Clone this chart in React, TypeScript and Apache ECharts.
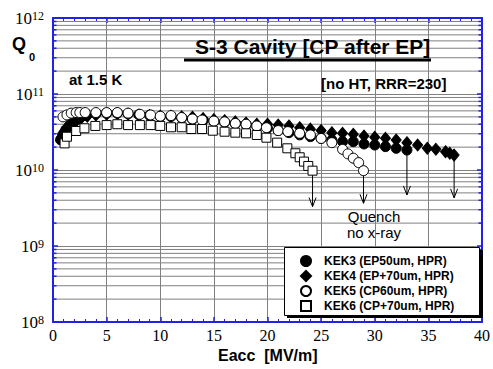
import React, { useEffect, useRef } from "react";
import * as echarts from "echarts";

// ---- data ----
const kek3E = [0.7, 0.9, 1.2, 1.5, 2.0, 2.5, 3.0, 4.0, 5.0, 6.0, 7.0, 8.0, 9.0, 10.0, 11.0, 12.0, 13.0, 14.0, 15.0, 16.0, 17.0, 18.0, 19.0, 20.0, 21.0, 22.0, 23.0, 24.0, 25.0, 26.0, 27.0, 28.0, 29.0, 30.0, 31.0, 32.0, 33.0];
const kek3Q = [2.5e10, 2.9e10, 3.4e10, 3.8e10, 4.3e10, 4.8e10, 5.2e10, 5.5e10, 5.6e10, 5.6e10, 5.5e10, 5.35e10, 5.25e10, 5.05e10, 5.05e10, 4.85e10, 4.65e10, 4.5e10, 4.35e10, 4.25e10, 4.05e10, 3.95e10, 3.75e10, 3.55e10, 3.3e10, 3.1e10, 2.9e10, 2.75e10, 2.6e10, 2.48e10, 2.36e10, 2.36e10, 2.2e10, 2.13e10, 2.03e10, 1.93e10, 1.83e10];

const kek4E = [0.8, 1.1, 1.5, 2.0, 2.6, 3.2, 4.0, 5.0, 6.0, 7.0, 8.0, 9.0, 10.0, 11.0, 12.0, 13.0, 14.0, 15.0, 16.0, 17.0, 18.0, 19.0, 20.0, 21.0, 22.0, 23.0, 24.0, 25.0, 26.0, 27.0, 28.0, 29.0, 30.0, 31.0, 32.0, 33.0, 34.0, 34.9, 35.7, 36.6, 37.0, 37.4];
const kek4Q = [2.7e10, 3.3e10, 3.9e10, 4.4e10, 4.8e10, 5.1e10, 5.3e10, 5.4e10, 5.5e10, 5.4e10, 5.3e10, 5.2e10, 5.1e10, 5.1e10, 5.0e10, 4.95e10, 4.75e10, 4.6e10, 4.45e10, 4.3e10, 4.15e10, 4.0e10, 4.0e10, 3.9e10, 3.8e10, 3.6e10, 3.45e10, 3.3e10, 3.1e10, 3.04e10, 2.95e10, 2.8e10, 2.69e10, 2.61e10, 2.48e10, 2.29e10, 2.13e10, 1.93e10, 1.87e10, 1.74e10, 1.66e10, 1.57e10];

const kek5E = [0.93, 1.3, 1.7, 2.16, 2.5, 3.0, 4.0, 5.0, 6.0, 7.0, 8.1, 9.1, 10.0, 11.0, 12.0, 13.0, 13.9, 15.0, 16.0, 17.0, 18.0, 19.0, 19.9, 21.0, 21.9, 23.0, 24.0, 25.0, 26.0, 27.0, 27.5, 28.0, 28.5, 28.95];
const kek5Q = [5.0e10, 5.3e10, 5.6e10, 5.7e10, 5.7e10, 5.7e10, 5.7e10, 5.7e10, 5.7e10, 5.6e10, 5.4e10, 5.3e10, 5.1e10, 5.2e10, 4.9e10, 4.7e10, 4.55e10, 4.4e10, 4.3e10, 4.1e10, 4.0e10, 3.8e10, 3.6e10, 3.3e10, 3.2e10, 3.04e10, 2.89e10, 2.6e10, 2.29e10, 1.87e10, 1.63e10, 1.43e10, 1.25e10, 0.98e10];

const kek6E = [1.08, 1.3, 2.16, 2.93, 3.95, 5.0, 6.0, 7.0, 8.1, 9.1, 10.0, 11.0, 12.0, 12.9, 13.9, 14.9, 16.0, 17.0, 18.0, 19.0, 19.9, 20.9, 21.85, 22.6, 23.0, 23.4, 23.8, 24.2];
const kek6Q = [2.24e10, 2.74e10, 3.26e10, 3.54e10, 3.8e10, 3.9e10, 4.0e10, 3.9e10, 3.9e10, 3.9e10, 3.8e10, 3.65e10, 3.65e10, 3.46e10, 3.46e10, 3.29e10, 3.19e10, 3.1e10, 3.04e10, 2.89e10, 2.66e10, 2.29e10, 1.93e10, 1.66e10, 1.47e10, 1.29e10, 1.13e10, 0.98e10];

const seriesNames = ["KEK3 (EP50um, HPR)", "KEK4 (EP+70um, HPR)", "KEK5 (CP60um, HPR)", "KEK6 (CP+70um, HPR)"];

// quench arrows: Eacc, start Q, arrow-tip Q
const arrowE = [24.2, 28.95, 33.0, 37.4];
const arrowFromQ = [0.98e10, 0.98e10, 1.83e10, 1.57e10];
const arrowToQ = [3.3e9, 3.65e9, 4.7e9, 4.3e9];

// axes
const xMin = 0, xMax = 40, xStep = 5;
const yMin = 1e8, yMax = 1e12;
const yDecades = [1e8, 1e9, 1e10, 1e11];
const yMinorFactors = [2, 3, 4, 5, 6, 7, 8, 9];

const BLUE = "#2222e6";
const GRID = "#808080";
const SANS = "'Liberation Sans', Arial, sans-serif";
const SERIF = "'Liberation Serif', 'Times New Roman', serif";

export default function App() {
  const ref = useRef<HTMLDivElement>(null);

  useEffect(() => {
    if (!ref.current) return;
    const chart = echarts.init(ref.current, undefined, { renderer: "svg" });

    const pairs = (e: number[], q: number[]) => e.map((v, i) => [v, q[i]]);
    const minorVals: number[][] = [];
    yDecades.forEach((d) => yMinorFactors.forEach((f) => minorVals.push([0, d * f])));

    const axisLineCfg = { show: true, onZero: false, lineStyle: { color: BLUE, width: 2 } };
    const tickCfg = { show: true, inside: true, length: 5, lineStyle: { color: BLUE, width: 1.5 } };

    const option: any = {
      animation: false,
      backgroundColor: "#fff",
      grid: { left: 53, top: 18, width: 432, height: 304, containLabel: false },
      xAxis: [
        {
          type: "value", min: xMin, max: xMax, interval: xStep, position: "bottom",
          axisLine: axisLineCfg, axisTick: tickCfg,
          minorTick: { show: true, splitNumber: 5, length: 3, lineStyle: { color: BLUE, width: 1 } },
          splitLine: { show: true, lineStyle: { color: GRID, width: 1 } },
          axisLabel: { fontFamily: SERIF, fontSize: 16, color: "#000", margin: 5 },
        },
        {
          type: "value", min: xMin, max: xMax, interval: xStep, position: "top",
          axisLine: axisLineCfg, axisTick: tickCfg,
          minorTick: { show: true, splitNumber: 5, length: 3, lineStyle: { color: BLUE, width: 1 } },
          splitLine: { show: false }, axisLabel: { show: false },
        },
      ],
      yAxis: [
        {
          type: "log", logBase: 10, min: yMin, max: yMax, splitNumber: 4, position: "left",
          axisLine: axisLineCfg, axisTick: tickCfg,
          splitLine: { show: true, lineStyle: { color: GRID, width: 1 } },
          axisLabel: {
            margin: 9,
            formatter: (v: number) => `{b|10}{s|${Math.round(Math.log10(v))}}`,
            rich: {
              b: { fontFamily: SERIF, fontSize: 17, lineHeight: 17, color: "#000", verticalAlign: "bottom" },
              s: { fontFamily: SERIF, fontSize: 12, lineHeight: 12, color: "#000", verticalAlign: "top" },
            },
          },
        },
        {
          type: "log", logBase: 10, min: yMin, max: yMax, splitNumber: 4, position: "right",
          axisLine: axisLineCfg, axisTick: tickCfg,
          splitLine: { show: false }, axisLabel: { show: false },
        },
      ],
      legend: {
        data: seriesNames, orient: "vertical", left: 300, top: 255,
        itemWidth: 10, itemHeight: 10, itemGap: 3, padding: 0, selectedMode: false, z: 10,
        textStyle: { fontFamily: SANS, fontWeight: "bold", fontSize: 12, color: "#000", lineHeight: 12, padding: [0, 0, 0, 8] },
      },
      graphic: [
        // Q0 label
        { type: "text", left: 12, top: 35, style: { text: "Q", font: `bold 18px ${SANS}`, fill: "#000" } },
        { type: "text", left: 29, top: 51, style: { text: "0", font: `bold 11px ${SANS}`, fill: "#000" } },
        // title
        { type: "text", x: 195, y: 57, style: { text: "S-3 Cavity [CP after EP]", font: `bold 21px ${SANS}`, fill: "#000", textVerticalAlign: "bottom" } as any, z: 5 },
        { type: "rect", shape: { x: 184, y: 58.5, width: 247, height: 3 }, style: { fill: "#000" }, z: 5 },
        { type: "text", x: 69, y: 87, style: { text: "at 1.5 K", font: `bold 15px ${SANS}`, fill: "#000", textVerticalAlign: "bottom" } as any, z: 5 },
        { type: "text", x: 321, y: 91, style: { text: "[no HT, RRR=230]", font: `bold 15px ${SANS}`, fill: "#000", textVerticalAlign: "bottom" } as any, z: 5 },
        // quench note
        { type: "text", x: 374, y: 216, style: { text: "Quench", font: `15px ${SANS}`, fill: "#000", textAlign: "center", textVerticalAlign: "middle" } as any, z: 5 },
        { type: "text", x: 374, y: 232, style: { text: "no x-ray", font: `15px ${SANS}`, fill: "#000", textAlign: "center", textVerticalAlign: "middle" } as any, z: 5 },
        // x axis name
        { type: "text", x: 218, y: 363, style: { text: "Eacc \u00a0[MV/m]", font: `bold 16px ${SANS}`, fill: "#000", textVerticalAlign: "bottom" } as any, z: 5 },
        // legend box with shadow
        { type: "rect", shape: { x: 287, y: 250, width: 196, height: 68 }, style: { fill: "#000" }, z: 8 },
        { type: "rect", shape: { x: 284.5, y: 247.5, width: 195, height: 68 }, style: { fill: "#fff", stroke: "#000", lineWidth: 1 }, z: 9 },
      ],
      series: [
        {
          type: "custom", name: "minorgrid", silent: true, z: 1,
          xAxisIndex: 0, yAxisIndex: 0, data: minorVals, encode: { x: 0, y: 1 },
          renderItem: (params: any, api: any) => {
            const v = api.value(1);
            const p0 = api.coord([xMin, v]);
            const p1 = api.coord([xMax, v]);
            return {
              type: "group",
              children: [
                { type: "line", shape: { x1: p0[0] + 1, y1: p0[1], x2: p1[0] - 1, y2: p1[1] }, style: { stroke: GRID, lineWidth: 1 } },
                { type: "line", shape: { x1: p0[0], y1: p0[1], x2: p0[0] + 3.5, y2: p0[1] }, style: { stroke: BLUE, lineWidth: 1.5 } },
                { type: "line", shape: { x1: p1[0] - 3.5, y1: p1[1], x2: p1[0], y2: p1[1] }, style: { stroke: BLUE, lineWidth: 1.5 } },
              ],
            };
          },
        },
        {
          type: "scatter", name: seriesNames[0], data: pairs(kek3E, kek3Q), symbol: "circle", symbolSize: 10, z: 3,
          itemStyle: { color: "#000", borderColor: "#000", borderWidth: 1, opacity: 1 },
        },
        {
          type: "scatter", name: seriesNames[1], data: pairs(kek4E, kek4Q), symbol: "diamond", symbolSize: [10, 12], z: 3,
          itemStyle: { color: "#000", borderColor: "#000", borderWidth: 1, opacity: 1 },
        },
        {
          type: "scatter", name: seriesNames[2], data: pairs(kek5E, kek5Q), symbol: "circle", symbolSize: 10, z: 3,
          itemStyle: { color: "#fff", borderColor: "#000", borderWidth: 1, opacity: 1 },
        },
        {
          type: "scatter", name: seriesNames[3], data: pairs(kek6E, kek6Q), symbol: "rect", symbolSize: 9, z: 3,
          itemStyle: { color: "#fff", borderColor: "#000", borderWidth: 1, opacity: 1 },
        },
        {
          type: "custom", name: "arrows", silent: true, z: 2,
          data: arrowE.map((e, i) => [e, arrowFromQ[i], arrowToQ[i]]),
          encode: { x: 0, y: [1, 2] },
          renderItem: (params: any, api: any) => {
            const e = api.value(0);
            const a = api.coord([e, api.value(1)]);
            const b = api.coord([e, api.value(2)]);
            return {
              type: "group",
              children: [
                { type: "line", shape: { x1: a[0], y1: a[1] + 4, x2: b[0], y2: b[1] }, style: { stroke: "#000", lineWidth: 1 } },
                { type: "polyline", shape: { points: [[b[0] - 3.5, b[1] - 9], [b[0], b[1]], [b[0] + 3.5, b[1] - 9]] }, style: { stroke: "#000", fill: "none", lineWidth: 1 } },
              ],
            };
          },
        },
      ],
    };

    chart.setOption(option);
    return () => chart.dispose();
  }, []);

  return (
    <div
      ref={ref}
      style={{ position: "fixed", left: 0, top: 0, width: 493, height: 369, background: "#fff" }}
    />
  );
}
